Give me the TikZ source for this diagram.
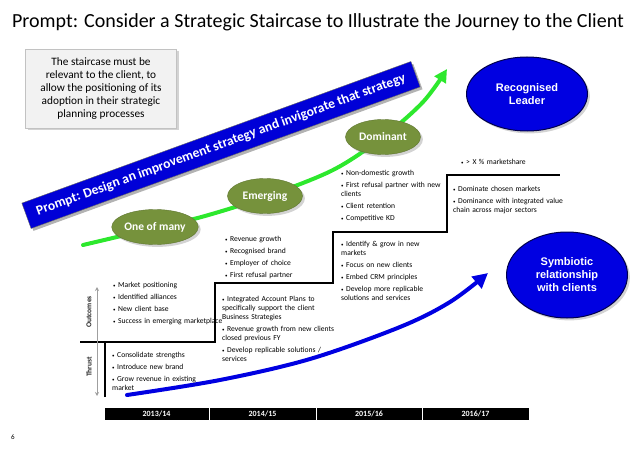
\documentclass[tikz,border=0pt]{standalone}
\usepackage{fontspec}
\setmainfont{Carlito}
\newfontfamily\arialfont{Liberation Sans}
\usetikzlibrary{shapes.geometric,arrows.meta,shadows}
\definecolor{olivefill}{RGB}{118,146,60}
\definecolor{bannerblue}{RGB}{0,0,215}
\definecolor{ellblue}{RGB}{0,0,225}
\definecolor{brightgreen}{RGB}{45,232,45}
\definecolor{boxgray}{RGB}{242,242,242}
\newcommand\bitem[1]{\par\hangindent=5pt\hangafter=1\noindent\makebox[5pt][l]{\fontsize{5}{5}\selectfont\textbullet}#1}
\tikzset{
  titletext/.style={font=\fontsize{20}{22}\selectfont, inner sep=0pt},
  notebox/.style={fill=boxgray, draw=boxgray!80!black, drop shadow={opacity=0.35}, minimum width=151, minimum height=79, align=center, font=\fontsize{11.3}{13}\selectfont, inner sep=0pt},
  banner/.style={fill=bannerblue, draw=black!60, drop shadow={opacity=0.6}, minimum width=414, minimum height=27, text=white, font=\bfseries\fontsize{13.6}{16}\selectfont, inner sep=0pt},
  stage/.style={ellipse, fill=olivefill, draw=olivefill!80!black, drop shadow={opacity=0.35}, minimum width=75, minimum height=35, inner sep=0pt, text=white, font=\bfseries\fontsize{11.5}{13}\selectfont},
  goal/.style={ellipse, fill=ellblue, draw=black!70!blue, line width=1pt, drop shadow={opacity=0.35}, inner sep=0pt, text=white, align=center, font=\arialfont\bfseries\fontsize{11}{13}\selectfont},
  blist/.style={anchor=north west, inner sep=0pt, text width=140pt, align=left, font=\fontsize{7.6}{9}\selectfont, execute at begin node={\setlength{\parskip}{3pt}}},
  stair/.style={line width=1.4pt, black},
  axisarrow/.style={gray!75, line width=1pt, {Stealth[length=4pt,width=4pt]}-{Stealth[length=4pt,width=4pt]}},
  axislabel/.style={rotate=90, font=\bfseries\fontsize{7.5}{9}\selectfont, inner sep=0pt, text=black!85},
  greenarrow/.style={brightgreen, line width=4pt, line cap=round, -{Triangle[length=13pt,width=13pt]}},
  bluearrow/.style={ellblue, line width=4pt, line cap=round, -{Triangle[length=15pt,width=15pt]}},
  yearcell/.style={fill=black, draw=white, line width=1pt, minimum height=13, inner sep=0pt, text=white, font=\bfseries\fontsize{8}{9}\selectfont},
}
\begin{document}
\begin{tikzpicture}[x=1pt,y=-1pt]
\useasboundingbox (0,0) rectangle (638,452);

% title
\node[titletext] (title) at (318,22) {Prompt: Consider a Strategic Staircase to Illustrate the Journey to the Client};

% note box
\node[notebox] (note) at (101,88.5) {The staircase must be\\relevant to the client, to\\allow the positioning of its\\adoption in their strategic\\planning processes};

% banner
\node[banner, rotate=20] (banner) at (221,145) {Prompt: Design an improvement strategy and invigorate that strategy};

% green journey curve
\coordinate (g0) at (83,245);
\coordinate (g1) at (155,228);
\coordinate (g2) at (205,216);
\coordinate (g3) at (265,197);
\coordinate (g4) at (333,170);
\coordinate (g5) at (383,137);
\coordinate (g6) at (423,102);
\coordinate (g7) at (447,69);
\draw[greenarrow] plot[smooth, tension=0.55] coordinates {(g0) (g1) (g2) (g3) (g4) (g5) (g6) (g7)};

% stages
\node[stage] (one) at (155,227) {One of many};
\node[stage] (emerging) at (265,196) {Emerging};
\node[stage] (dominant) at (383,137) {Dominant};

% goals
\node[goal, minimum width=121, minimum height=74] (leader) at (527,94) {Recognised\\Leader};
\node[goal, minimum width=121, minimum height=86] (symb) at (567,275) {Symbiotic\\relationship\\with clients};

% staircase
\coordinate (s0) at (105,397);
\coordinate (s1) at (105,342);
\coordinate (s2) at (215,342);
\coordinate (s3) at (215,283);
\coordinate (s4) at (333,283);
\coordinate (s5) at (333,232);
\coordinate (s6) at (447,232);
\coordinate (s7) at (447,175);
\coordinate (s8) at (560,175);
\coordinate (sl) at (80,342);
\draw[stair] (s0) -- (s1) -- (s2) -- (s3) -- (s4) -- (s5) -- (s6) -- (s7) -- (s8);
\draw[stair] (sl) -- (s1);

% axis
\coordinate (a0) at (97,287);
\coordinate (a1) at (97,396);
\draw[axisarrow] (a0) -- (a1);
\node[axislabel] (outcomes) at (89,312) {Outcomes};
\node[axislabel] (thrust) at (89,367) {Thrust};

% blue arrow
\coordinate (b0) at (127,395);
\coordinate (b1) at (220,380);
\coordinate (b2) at (310,359);
\coordinate (b3) at (400,327);
\coordinate (b4) at (450,302);
\coordinate (b5) at (488,273);
\draw[bluearrow] plot[smooth, tension=0.55] coordinates {(b0) (b1) (b2) (b3) (b4) (b5)};

% bullet lists
\node[blist] (t1) at (112,345.5) {\bitem{Consolidate strengths}\bitem{Introduce new brand}\bitem{Grow revenue in existing\\market}};
\node[blist] (o1) at (113,275.5) {\bitem{Market positioning}\bitem{Identified alliances}\bitem{New client base}\bitem{Success in emerging marketplace}};
\node[blist] (t2) at (222,289.5) {\bitem{Integrated Account Plans to\\specifically support the client\\Business Strategies}\bitem{Revenue growth from new clients\\closed previous FY}\bitem{Develop replicable solutions /\\services}};
\node[blist] (o2) at (225,229.5) {\bitem{Revenue growth}\bitem{Recognised brand}\bitem{Employer of choice}\bitem{First refusal partner}};
\node[blist] (t3) at (341,234.5) {\bitem{Identify \& grow in new\\markets}\bitem{Focus on new clients}\bitem{Embed CRM principles}\bitem{Develop more replicable\\solutions and services}};
\node[blist] (o3) at (341,163.5) {\bitem{Non-domestic growth}\bitem{First refusal partner with new\\clients}\bitem{Client retention}\bitem{Competitive KD}};
\node[blist] (t4) at (453,179.5) {\bitem{Dominate chosen markets}\bitem{Dominance with integrated value\\chain across major sectors}};
\node[blist] (o4) at (461,152.5) {\bitem{> X \% marketshare}};

% year bar
\node[yearcell, minimum width=105] (y1) at (156.5,413.5) {2013/14};
\node[yearcell, minimum width=107] (y2) at (262.5,413.5) {2014/15};
\node[yearcell, minimum width=106] (y3) at (369,413.5) {2015/16};
\node[yearcell, minimum width=107] (y4) at (475.5,413.5) {2016/17};

% page number
\node[font=\fontsize{7}{8}\selectfont, inner sep=0pt] (page) at (13,437) {6};
\end{tikzpicture}
\end{document}
